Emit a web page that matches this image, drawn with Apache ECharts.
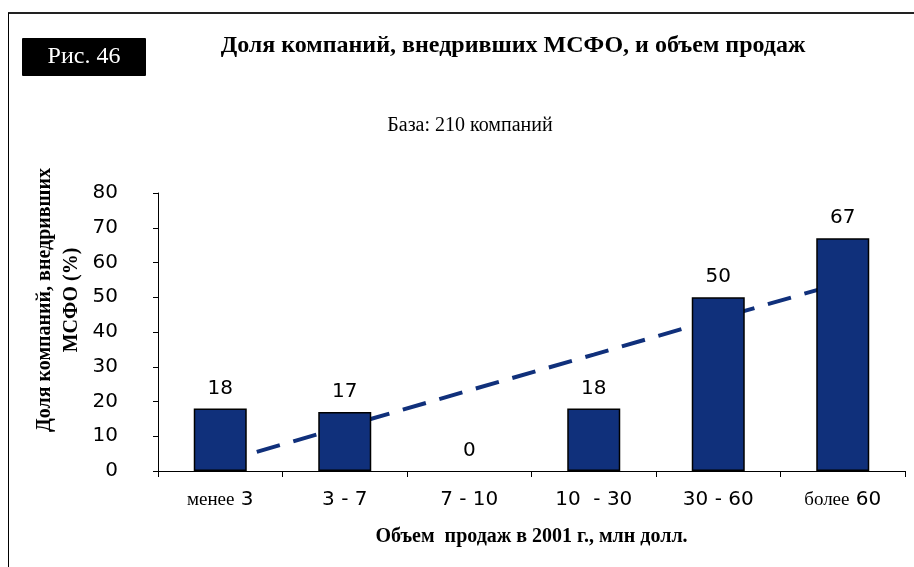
<!DOCTYPE html>
<html>
<head>
<meta charset="utf-8">
<script src="https://cdn.jsdelivr.net/npm/echarts@6/dist/echarts.min.js"></script>
<style>
  html, body { margin: 0; padding: 0; background: #fff; }
  #main { width: 914px; height: 567px; }
</style>
</head>
<body>
<div id="main"></div>
<script>
// данные с рисунка
var categories = ['менее 3', '3 - 7', '7 - 10', '10  - 30', '30 - 60', 'более 60'];
var shares = [18, 17, 0, 18, 50, 67];
// линия тренда (пунктир)
var trend = [2.5, 12.8, 23.2, 33.5, 43.9, 54.2];
var yTicks = [0, 80, 10];

var serif = 'Liberation Serif';
var sans = 'DejaVu Sans';
var navy = '#10307b';

var myChart = echarts.init(document.getElementById('main'));

// нулевой столбик без обводки, чтобы не торчал над осью
var barData = shares.map(function (v) {
  return v === 0 ? { value: v, itemStyle: { borderWidth: 0 } } : v;
});

var option = {
  animation: false,
  backgroundColor: '#fff',
  grid: { left: 158, right: 9, top: 193, bottom: 96 },
  xAxis: {
    type: 'category',
    data: categories,
    axisLine: { lineStyle: { color: '#000', width: 1 } },
    axisTick: { show: true, length: 6, lineStyle: { color: '#000' } },
    axisLabel: {
      interval: 0,
      margin: 19,
      color: '#000',
      fontFamily: sans,
      fontSize: 20,
      formatter: function (v) {
        // "менее" и "более" набраны серифом
        var m = v.match(/^(менее|более) (.*)$/);
        if (m) return '{s|' + m[1] + '} {n|' + m[2] + '}';
        return '{n|' + v + '}';
      },
      rich: {
        s: { fontFamily: serif, fontSize: 19, color: '#000' },
        n: { fontFamily: sans, fontSize: 20, color: '#000' }
      }
    },
    name: 'Объем  продаж в 2001 г., млн долл.',
    nameLocation: 'middle',
    nameGap: 56,
    nameTextStyle: { fontFamily: serif, fontWeight: 'bold', fontSize: 20, color: '#000' }
  },
  yAxis: {
    type: 'value',
    min: yTicks[0],
    max: yTicks[1],
    interval: yTicks[2],
    splitLine: { show: false },
    axisLine: { show: true, lineStyle: { color: '#000', width: 1 } },
    axisTick: { show: true, length: 5, lineStyle: { color: '#000' } },
    axisLabel: { margin: 40, color: '#000', fontFamily: sans, fontSize: 20 }
  },
  series: [
    {
      type: 'line',
      data: trend,
      z: 1,
      symbol: 'none',
      silent: true,
      lineStyle: { color: navy, width: 4, type: [24, 14] }
    },
    {
      type: 'bar',
      data: barData,
      z: 3,
      barWidth: 53,
      itemStyle: { color: navy, borderColor: '#000', borderWidth: 1.5 },
      label: {
        show: true,
        position: 'top',
        distance: 10,
        color: '#000',
        fontFamily: sans,
        fontSize: 20
      }
    }
  ],
  graphic: [
    // рамка
    { type: 'line', shape: { x1: 8, y1: 13, x2: 914, y2: 13 }, style: { stroke: '#222', lineWidth: 2 } },
    { type: 'line', shape: { x1: 8.5, y1: 13, x2: 8.5, y2: 567 }, style: { stroke: '#000', lineWidth: 1 } },
    // плашка "Рис. 46"
    { type: 'rect', shape: { x: 22, y: 38, width: 124, height: 38, r: 1 }, style: { fill: '#000' } },
    { type: 'text', x: 84, y: 57, style: { text: 'Рис. 46', fill: '#fff', font: '24px "Liberation Serif"', textAlign: 'center', textVerticalAlign: 'middle' } },
    // заголовок
    { type: 'text', x: 513, y: 46, style: { text: 'Доля компаний, внедривших МСФО, и объем продаж', fill: '#000', font: 'bold 24px "Liberation Serif"', textAlign: 'center', textVerticalAlign: 'middle' } },
    { type: 'text', x: 470, y: 126, style: { text: 'База: 210 компаний', fill: '#000', font: '20px "Liberation Serif"', textAlign: 'center', textVerticalAlign: 'middle' } },
    // подпись оси Y
    {
      type: 'text', x: 58, y: 300, rotation: Math.PI / 2,
      style: {
        text: 'Доля компаний, внедривших\nМСФО (%)',
        fill: '#000', font: 'bold 20px "Liberation Serif"',
        textAlign: 'center', textVerticalAlign: 'middle', lineHeight: 27
      }
    }
  ]
};

myChart.setOption(option);
</script>
</body>
</html>
